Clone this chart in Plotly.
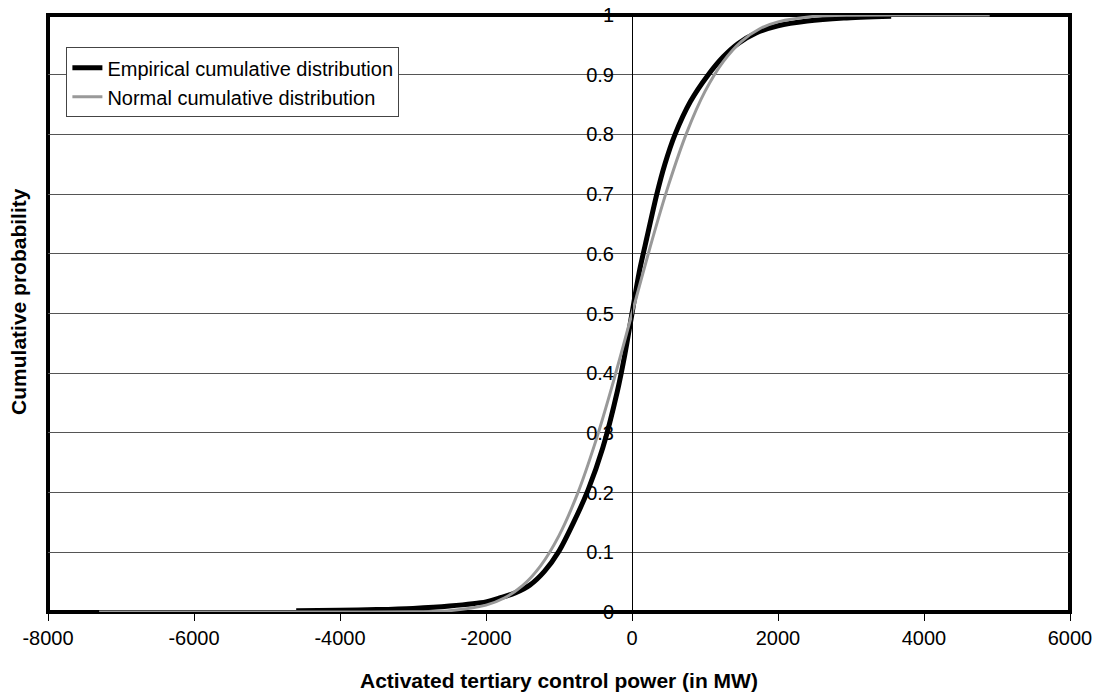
import plotly.graph_objects as go

# Empirical cumulative distribution
emp_x = [-4600, -4000, -3500, -3000, -2500, -2000, -1800, -1600, -1400, -1200,
         -1000, -800, -600, -400, -200, -100, 0, 100, 200, 340,
         450, 590, 800, 1045, 1250, 1450, 1700, 2000, 2400, 2900, 3550]
emp_y = [0.002, 0.003, 0.004, 0.006, 0.010, 0.017, 0.024, 0.032, 0.045, 0.068,
         0.102, 0.150, 0.205, 0.275, 0.370, 0.430, 0.500, 0.570, 0.625, 0.700,
         0.750, 0.800, 0.855, 0.900, 0.930, 0.952, 0.970, 0.982, 0.990, 0.995, 0.998]

# Normal cumulative distribution
norm_x = [-7300, -4000, -3000, -2500, -2000, -1750, -1500, -1250, -1000, -750,
          -500, -250, 0, 250, 500, 750, 1000, 1250, 1500, 1750,
          2000, 2500, 3000, 4000, 4900]
norm_y = [0.0, 0.0, 0.0003, 0.0022, 0.0115, 0.0234, 0.0441, 0.0778, 0.128, 0.197,
          0.285, 0.388, 0.500, 0.612, 0.715, 0.803, 0.872, 0.922, 0.956, 0.977,
          0.9885, 0.9978, 0.9997, 1.0, 1.0]

x_ticks = [-8000, -6000, -4000, -2000, 0, 2000, 4000, 6000]
y_ticks = [0, 0.1, 0.2, 0.3, 0.4, 0.5, 0.6, 0.7, 0.8, 0.9, 1]
y_tick_text = ["0", "0.1", "0.2", "0.3", "0.4", "0.5", "0.6", "0.7", "0.8", "0.9", "1"]

FONT = "Liberation Sans, Arial, sans-serif"

fig = go.Figure()
fig.add_trace(go.Scatter(
    x=emp_x, y=emp_y, mode="lines", name="Empirical cumulative distribution",
    line=dict(color="#000000", width=5, shape="spline", smoothing=0.7),
))
fig.add_trace(go.Scatter(
    x=norm_x, y=norm_y, mode="lines", name="Normal cumulative distribution",
    line=dict(color="#999999", width=3, shape="spline", smoothing=0.7),
))

x_min, x_max = -8000, 6000
fig.update_layout(
    width=1096, height=696,
    margin=dict(l=48, r=26, t=15, b=84, autoexpand=False),
    paper_bgcolor="white", plot_bgcolor="white",
    font=dict(family=FONT, size=20, color="#000000"),
    showlegend=True,
    legend=dict(
        x=0.018, y=0.946, xanchor="left", yanchor="top",
        bgcolor="white", bordercolor="#444444", borderwidth=1,
        font=dict(family=FONT, size=20, color="#000000"),
        tracegroupgap=0, itemwidth=30,
    ),
    xaxis=dict(
        range=[x_min, x_max], tickvals=x_ticks, ticktext=[str(v) for v in x_ticks],
        ticks="outside", ticklen=8, tickwidth=1, tickcolor="#000000",
        showgrid=False, zeroline=False, showline=False, automargin=False,
        tickfont=dict(family=FONT, size=20, color="#000000"),
    ),
    yaxis=dict(
        range=[0, 1], tickvals=y_ticks, ticktext=y_tick_text,
        anchor="free", position=(0 - x_min) / (x_max - x_min),
        showline=True, linecolor="#000000", linewidth=1,
        ticks="", ticklabelstandoff=14, automargin=False,
        showgrid=True, gridcolor="#555555", gridwidth=1,
        zeroline=False,
        tickfont=dict(family=FONT, size=20, color="#000000"),
    ),
    shapes=[dict(
        type="rect", xref="paper", yref="paper", x0=0, x1=1, y0=0, y1=1,
        line=dict(color="#000000", width=4), layer="below",
    )],
    annotations=[
        dict(text="<b>Activated tertiary control power (in MW)</b>",
             xref="paper", yref="paper", x=0.5, y=-0.114,
             xanchor="center", yanchor="middle", showarrow=False,
             font=dict(family=FONT, size=21, color="#000000")),
        dict(text="<b>Cumulative probability</b>",
             xref="paper", yref="paper", x=-0.029, y=0.52,
             xanchor="center", yanchor="middle", showarrow=False, textangle=-90,
             font=dict(family=FONT, size=21, color="#000000")),
    ],
)

fig.write_html(
    "out.html",
    config={"displayModeBar": False},
    post_script="document.body.style.margin='0';document.body.style.overflow='hidden';",
)
